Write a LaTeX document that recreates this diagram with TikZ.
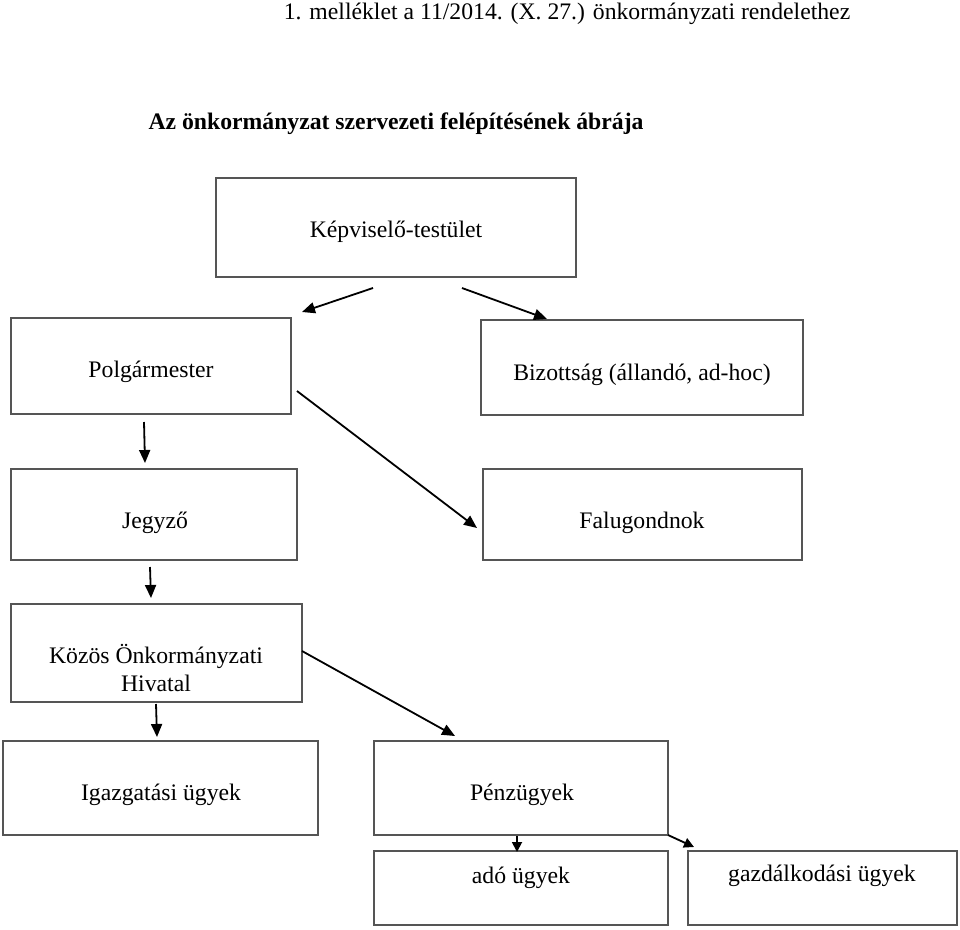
\documentclass[tikz,border=0pt]{standalone}
\usepackage{fontspec}
\setmainfont{Liberation Serif}
\usetikzlibrary{arrows.meta}
\definecolor{boxgray}{HTML}{555555}
\begin{document}
\begin{tikzpicture}[x=1pt,y=-1pt,
  box/.style={draw=boxgray,line width=1.4pt,inner sep=0pt,rectangle},
  txt/.style={inner sep=0pt,anchor=base,font=\fontsize{23.7}{29}\selectfont},
  ttl/.style={inner sep=0pt,anchor=base,font=\fontsize{23.7}{29}\selectfont\bfseries},
  arr/.style={line width=1.8pt,-{Triangle[length=13pt,width=11pt]}}]
\useasboundingbox[fill=white] (0,0) rectangle (960,929);

% header
\node[txt] (hdr) at (567,19) {1. melléklet a 11/2014. (X. 27.) önkormányzati rendelethez};
\node[ttl] (title) at (396,129) {Az önkormányzat szervezeti felépítésének ábrája};

% boxes
\node[box,minimum width=360pt,minimum height=99pt] (kt) at (396,227.5) {};
\node[box,minimum width=280pt,minimum height=96pt] (pm) at (151,366) {};
\node[box,minimum width=322pt,minimum height=95pt] (biz) at (642,367.5) {};
\node[box,minimum width=286pt,minimum height=91pt] (jeg) at (154,514.5) {};
\node[box,minimum width=319pt,minimum height=91pt] (falu) at (642.5,514.5) {};
\node[box,minimum width=291pt,minimum height=98pt] (koh) at (156.5,653) {};
\node[box,minimum width=315pt,minimum height=94pt] (igaz) at (160.5,788) {};
\node[box,minimum width=294pt,minimum height=94pt] (penz) at (521,788) {};
\node[box,minimum width=294pt,minimum height=74pt] (ado) at (521,888) {};
\node[box,minimum width=269pt,minimum height=74pt] (gazd) at (822.5,888) {};

% texts
\node[txt] (ktT) at (396,237) {Képviselő-testület};
\node[txt] (pmT) at (151,377) {Polgármester};
\node[txt] (bizT) at (642,380) {Bizottság (állandó, ad-hoc)};
\node[txt] (jegT) at (155,528) {Jegyző};
\node[txt] (faluT) at (642,528) {Falugondnok};
\node[txt] (kohT1) at (156,663) {Közös Önkormányzati};
\node[txt] (kohT2) at (156,691) {Hivatal};
\node[txt] (igazT) at (161,800) {Igazgatási ügyek};
\node[txt] (penzT) at (522,800) {Pénzügyek};
\node[txt] (adoT) at (521,883) {adó ügyek};
\node[txt] (gazdT) at (822,881) {gazdálkodási ügyek};

% arrow end points
\coordinate (a1s) at (373,288); \coordinate (a1e) at (302,312);
\coordinate (a2s) at (462,288); \coordinate (a2e) at (547,319);
\coordinate (a3s) at (144,422); \coordinate (a3e) at (145,463);
\coordinate (a4s) at (297,391); \coordinate (a4e) at (477,528);
\coordinate (a5s) at (150,567); \coordinate (a5e) at (151,598);
\coordinate (a6s) at (302,651); \coordinate (a6e) at (455,736);
\coordinate (a7s) at (156,704); \coordinate (a7e) at (157,737);
\coordinate (a8s) at (517,836); \coordinate (a8e) at (517,852);
\coordinate (a9s) at (668,835); \coordinate (a9e) at (694,847);

\draw[arr] (a1s) -- (a1e);
\draw[arr] (a2s) -- (a2e);
\draw[arr] (a3s) -- (a3e);
\draw[arr] (a4s) -- (a4e);
\draw[arr] (a5s) -- (a5e);
\draw[arr] (a6s) -- (a6e);
\draw[arr] (a7s) -- (a7e);
\draw[arr,-{Triangle[length=10pt,width=10pt]}] (a8s) -- (a8e);
\draw[arr,-{Triangle[length=10pt,width=10pt]}] (a9s) -- (a9e);
\end{tikzpicture}
\end{document}
